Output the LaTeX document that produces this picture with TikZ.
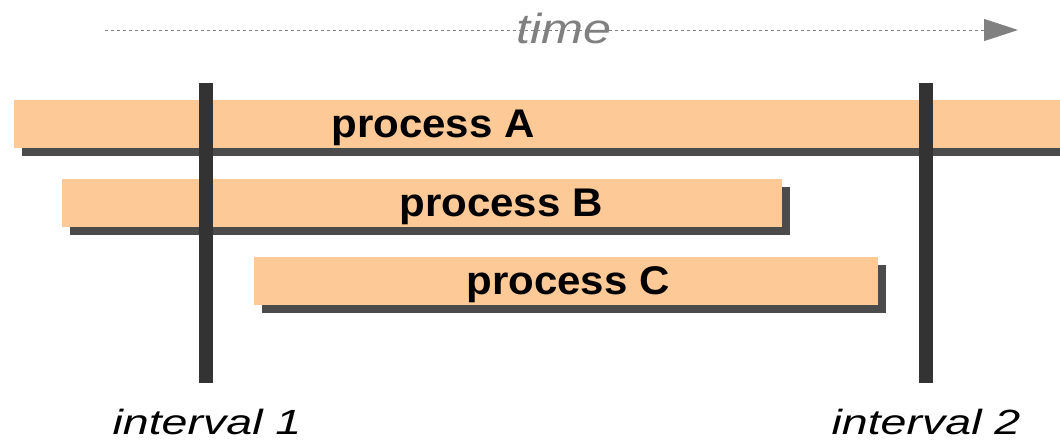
\documentclass[tikz,border=0pt]{standalone}
\usepackage{fontspec}
\setmainfont{Liberation Sans}
\usetikzlibrary{arrows.meta}
\definecolor{barfill}{HTML}{FDC997}
\definecolor{shadowgray}{HTML}{4B4B4B}
\definecolor{linegray}{HTML}{333333}
\definecolor{timegray}{HTML}{808080}
\begin{document}
\begin{tikzpicture}[x=1pt,y=-1pt,
  barbox/.style={fill=barfill, draw=none, inner sep=0pt, outer sep=0pt, anchor=north west, minimum height=48pt},
  shadowbox/.style={fill=shadowgray, draw=none, inner sep=0pt, outer sep=0pt, anchor=north west, minimum height=48pt},
  intline/.style={draw=linegray, line width=14.5pt},
  proclabel/.style={anchor=base, inner sep=0pt, font=\fontsize{40}{40}\selectfont\bfseries, xscale=1.05},
  intlabel/.style={anchor=base, inner sep=0pt, font=\fontsize{35}{35}\selectfont\itshape, xscale=1.33},
  timelabel/.style={anchor=base, inner sep=0pt, text=timegray, font=\fontsize{42}{42}\selectfont\itshape, xscale=1.2}]
\useasboundingbox (0,0) rectangle (1060,447);
% time arrow
\coordinate (ts) at (105,30);
\coordinate (te) at (1018,30);
\draw[timegray, line width=1pt, dash pattern=on 3pt off 3pt, -{Triangle[length=34pt,width=22pt]}] (ts) -- (te);
\node[timelabel] (time) at (564,43) {time};
% shadows
\node[shadowbox, minimum width=1038pt] (Ash) at (22,108) {};
\node[shadowbox, minimum width=720pt] (Bsh) at (70,187) {};
\node[shadowbox, minimum width=624pt] (Csh) at (262,265) {};
% bars
\node[barbox, minimum width=1046pt] (A) at (14,100) {};
\node[barbox, minimum width=720pt] (B) at (62,179) {};
\node[barbox, minimum width=624pt] (C) at (254,257) {};
% interval lines
\coordinate (i1t) at (206,83);
\coordinate (i1b) at (206,383);
\coordinate (i2t) at (926,83);
\coordinate (i2b) at (926,383);
\draw[intline] (i1t) -- (i1b);
\draw[intline] (i2t) -- (i2b);
% labels
\node[proclabel] (LA) at (433,137.5) {process A};
\node[proclabel] (LB) at (501,216.5) {process B};
\node[proclabel] (LC) at (568,294.5) {process C};
\node[intlabel] (I1) at (207,434.5) {interval 1};
\node[intlabel] (I2) at (926,434.5) {interval 2};
\end{tikzpicture}
\end{document}
